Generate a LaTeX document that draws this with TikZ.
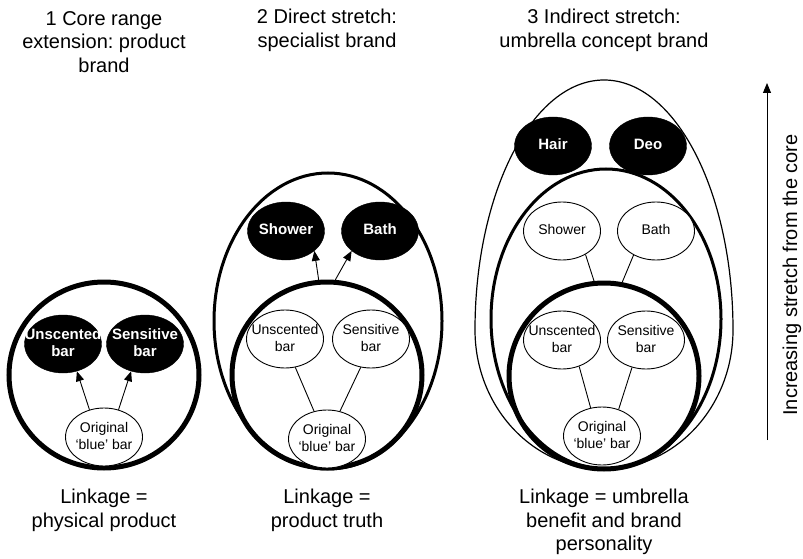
\documentclass[tikz,border=0pt]{standalone}
\usepackage{fontspec}
\setmainfont{Liberation Sans}
\usetikzlibrary{shapes.geometric,arrows.meta}
\frenchspacing
% texte centre sans influer sur la taille de l'ovale
\newcommand{\ovtxt}[1]{\smash{\makebox[0pt]{\raisebox{-4pt}{\begin{tabular}{@{}c@{}}#1\end{tabular}}}}}

\begin{document}
\begin{tikzpicture}[x=1pt,y=-1pt]
\tikzset{grandrond/.style={draw, ellipse, line width=5pt, minimum width=190pt, minimum height=186pt, inner sep=0pt},
  ovale/.style={draw, ellipse, inner sep=0pt, line width=#1},
  ovnoir/.style={draw, ellipse, fill=black, text=white, inner sep=0pt, minimum width=77pt, minimum height=58pt, font=\fontsize{15}{17}\selectfont\bfseries},
  ovblanc/.style={draw, ellipse, fill=white, line width=0.9pt, inner sep=0pt, minimum width=77pt, minimum height=58pt, font=\fontsize{14}{17}\selectfont},
  titre/.style={align=center, font=\fontsize{20}{23.5}\selectfont},
  fleche/.style={-{Triangle[length=10pt,width=8pt]}, line width=0.9pt}}
\useasboundingbox (0,0) rectangle (803,559);
% titres
\node[titre] (T1) at (104,42) {1 Core range\\extension: product\\brand};
\node[titre] (T2) at (327,30.5) {2 Direct stretch:\\specialist brand};
\node[titre] (T3) at (604,30.5) {3 Indirect stretch:\\umbrella concept brand};
% 1
\node[grandrond] (C1) at (104,375) {};
\node[ovnoir] (U1) at (63,344) {\ovtxt{Unscented\\bar}};
\node[ovnoir] (S1) at (145,344) {\ovtxt{Sensitive\\bar}};
\node[ovblanc] (O1) at (104,437) {\ovtxt{Original\\`blue' bar}};
\draw[fleche] (O1.118) -- (U1.-63);
\draw[fleche] (O1.62) -- (S1.-117);
% 2
\node[ovale=3pt, minimum width=228pt, minimum height=296pt] (E2) at (328,321) {};
\node[grandrond] (C2) at (327,375) {};
\node[ovnoir] (Sh2) at (286,231) {\ovtxt{Shower}};
\node[ovnoir] (Ba2) at (380,231) {\ovtxt{Bath}};
\node[ovblanc] (U2) at (285,339) {\ovtxt{Unscented\\bar}};
\node[ovblanc] (S2) at (371,339) {\ovtxt{Sensitive\\bar}};
\node[ovblanc] (O2) at (327,439) {\ovtxt{Original\\`blue' bar}};
\draw[fleche] (C2.95) -- (Sh2.-35);
\draw[fleche] (C2.85) -- (Ba2.-145);
\draw[line width=0.9pt] (U2.-70) -- (O2.115);
\draw[line width=0.9pt] (S2.-110) -- (O2.65);
% 3
\draw[line width=1.2pt] (475,330) arc[start angle=180, end angle=0, x radius=129, y radius=139]
  arc[start angle=0, end angle=-180, x radius=129, y radius=250] -- cycle;
\node[ovale=3pt, minimum width=230pt, minimum height=300pt] (E3) at (606,319) {};
\node[grandrond] (C3) at (604,376) {};
\node[ovnoir] (H3) at (553,146) {\ovtxt{Hair}};
\node[ovnoir] (D3) at (648,146) {\ovtxt{Deo}};
\node[ovblanc] (Sh3) at (562,231) {\ovtxt{Shower}};
\node[ovblanc] (Ba3) at (656,231) {\ovtxt{Bath}};
\node[ovblanc] (U3) at (562,340) {\ovtxt{Unscented\\bar}};
\node[ovblanc] (S3) at (646,340) {\ovtxt{Sensitive\\bar}};
\node[ovblanc] (O3) at (602,436) {\ovtxt{Original\\`blue' bar}};
\draw[line width=0.9pt] (Sh3.-45) -- (C3.96);
\draw[line width=0.9pt] (Ba3.-133) -- (C3.79);
\draw[line width=0.9pt] (U3.-57) -- (O3.112);
\draw[line width=0.9pt] (S3.-117) -- (O3.58);
% liens
\node[titre] (B1) at (104,510.5) {Linkage =\\physical product};
\node[titre] (B2) at (327,510.5) {Linkage =\\product truth};
\node[titre] (B3) at (604,522) {Linkage = umbrella\\benefit and brand\\personality};
% fleche de droite
\coordinate (bas) at (767,440);
\coordinate (haut) at (767,83);
\draw[fleche] (bas) -- (haut);
\node[rotate=90, font=\fontsize{20}{24}\selectfont] (axe) at (792,275) {Increasing stretch from the core};
\end{tikzpicture}
\end{document}
